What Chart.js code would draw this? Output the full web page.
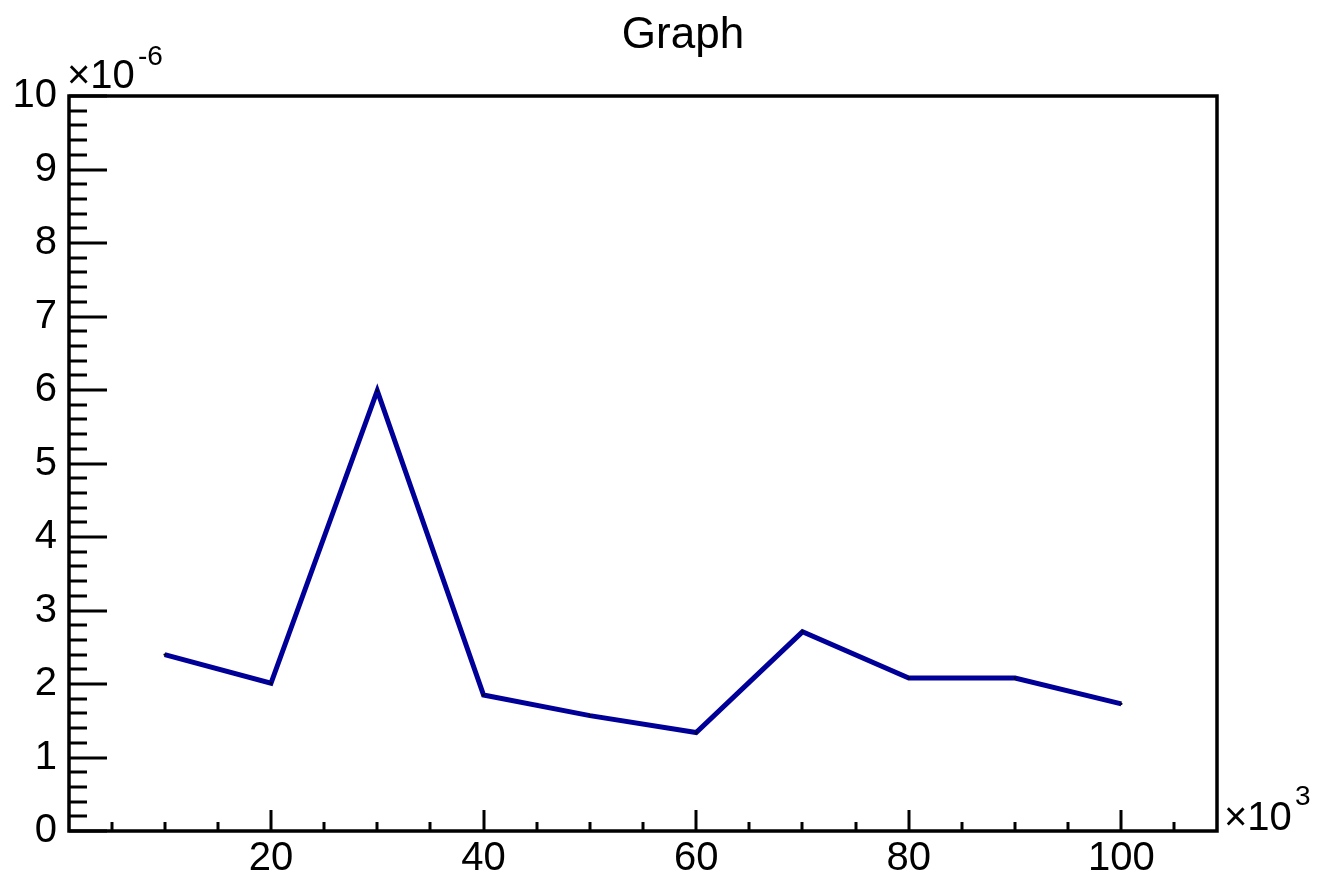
<!DOCTYPE html>
<html>
<head>
<meta charset="utf-8">
<title>Graph</title>
<script src="https://cdn.jsdelivr.net/npm/chart.js@4"></script>
<style>
  html, body { margin: 0; padding: 0; background: #fff; }
  #wrap { width: 1317px; height: 879px; }
</style>
</head>
<body>
<div id="wrap"><canvas id="myChart" width="1317" height="879"></canvas></div>
<script>
// x values are in units of 10^3, y values in units of 10^-6
const xValues = [10, 20, 30, 40, 50, 60, 70, 80, 90, 100];
const yValues = [2.40, 2.01, 5.99, 1.85, 1.57, 1.34, 2.71, 2.08, 2.08, 1.73];

const xTickLabels = [20, 40, 60, 80, 100];
const yTickLabels = [0, 1, 2, 3, 4, 5, 6, 7, 8, 9, 10];

const titleText = 'Graph';
const font = '"Liberation Sans", Arial, Helvetica, sans-serif';

// frame, inner tick marks, title and axis multipliers (ROOT look)
const rootStyle = {
    id: 'rootStyle',
    afterDraw(chart) {
        const ctx = chart.ctx;
        const area = chart.chartArea;
        const xs = chart.scales.x;
        const ys = chart.scales.y;
        ctx.save();
        ctx.strokeStyle = '#000';
        ctx.lineWidth = 3.5;
        ctx.strokeRect(area.left, area.top, area.right - area.left, area.bottom - area.top);

        // y ticks: major every 1, minor every 0.2
        ctx.lineWidth = 3;
        for (let i = 0; i <= 50; i++) {
            const y = Math.round(ys.getPixelForValue(i * 0.2));
            const len = (i % 5 === 0) ? 38 : 18;
            ctx.beginPath();
            ctx.moveTo(area.left, y);
            ctx.lineTo(area.left + len, y);
            ctx.stroke();
        }
        // x ticks: major every 20, minor every 5
        for (let v = 5; v < 109; v += 5) {
            const x = Math.round(xs.getPixelForValue(v));
            const len = (v % 20 === 0) ? 21 : 9;
            ctx.beginPath();
            ctx.moveTo(x, area.bottom);
            ctx.lineTo(x, area.bottom - len);
            ctx.stroke();
        }

        ctx.fillStyle = '#000';
        ctx.textBaseline = 'alphabetic';
        ctx.textAlign = 'center';
        ctx.font = '44px ' + font;
        ctx.fillText(titleText, 683, 48);

        ctx.textAlign = 'left';
        ctx.font = '40px ' + font;
        ctx.fillText('\u00d710', 67, 88);
        ctx.font = '28px ' + font;
        ctx.fillText('-6', 138, 65);

        ctx.font = '40px ' + font;
        ctx.fillText('\u00d710', 1224, 830);
        ctx.font = '28px ' + font;
        ctx.fillText('3', 1295, 805);
        ctx.restore();
    }
};

const ctx = document.getElementById('myChart').getContext('2d');
const chart = new Chart(ctx, {
    type: 'line',
    data: {
        datasets: [{
            label: titleText,
            data: xValues.map((x, i) => ({ x: x, y: yValues[i] })),
            borderColor: '#000099',
            borderWidth: 5,
            tension: 0,
            fill: false,
            pointRadius: 1.2,
            pointBackgroundColor: '#000',
            pointBorderWidth: 0
        }]
    },
    options: {
        responsive: false,
        animation: false,
        layout: { padding: { top: 96, right: 100, left: 0, bottom: 0 } },
        plugins: {
            legend: { display: false },
            title: { display: false },
            tooltip: { enabled: false }
        },
        scales: {
            x: {
                type: 'linear',
                min: 1,
                max: 109,
                afterBuildTicks: s => { s.ticks = xTickLabels.map(v => ({ value: v })); },
                afterFit: s => { s.height = 48; },
                grid: { display: false, drawTicks: false },
                border: { display: false },
                ticks: {
                    color: '#000',
                    padding: 4,
                    maxRotation: 0,
                    font: { family: font, size: 40 }
                }
            },
            y: {
                min: 0,
                max: 10,
                afterBuildTicks: s => { s.ticks = yTickLabels.map(v => ({ value: v })); },
                afterFit: s => { s.width = 69; },
                grid: { display: false, drawTicks: false },
                border: { display: false },
                ticks: {
                    color: '#000',
                    padding: 12,
                    font: { family: font, size: 40 }
                }
            }
        }
    },
    plugins: [rootStyle]
});
</script>
</body>
</html>
